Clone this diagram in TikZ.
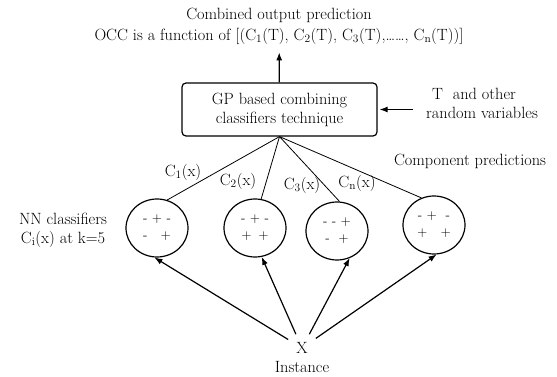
\documentclass[tikz,border=0pt]{standalone}
\usepackage{amsmath}
\usepackage{tikz}
\usetikzlibrary{arrows.meta,shapes,positioning}

\begin{document}
\begin{tikzpicture}[
    % GLOBAL CFG
    x=1pt, y=-1pt,
    font=\fontsize{16.3}{19}\selectfont,
    >={Latex[length=8pt,width=6pt]},
    % Styles
    combiner/.style={% For the GP box
        rectangle,
        rounded corners=4pt,
        draw,
        line width=1.2pt,
        minimum width=195pt,
        minimum height=53pt,
        align=center,
        },
    classifier/.style={% For the NN ellipses
        ellipse,
        draw,
        line width=1.2pt,
        minimum width=62pt,
        minimum height=58pt,
        inner sep=0pt,
        align=center,
        font=\fontsize{13.5}{17}\selectfont,
        },
    plain/.style={% For free text
        align=center,
        inner sep=1pt,
        },
    ArrowA/.style={% Thick arrows
        ->,
        line width=1.2pt,
        },
    FanLine/.style={% Thin component lines
        line width=0.8pt,
        },
    ]

    \useasboundingbox (0,0) rectangle (557,377);

    % Combiner box and its output
    \node [combiner] (gp) at (279.5,109.5) {GP based combining\\classifiers technique};
    \node [plain, font=\fontsize{16.3}{21}\selectfont] (out) at (279,26) {Combined output prediction\\OCC is a function of [(C\textsubscript{1}(T), C\textsubscript{2}(T), C\textsubscript{3}(T),\dots\dots, C\textsubscript{n}(T))]};
    \node [plain, align=left, anchor=west] (rv) at (425,103) {\hspace*{6pt}T\ \ and other\\random variables};
    \node [plain] (comp) at (470,161) {Component predictions};

    % Classifiers named e#
    \node [classifier] (e1) at (157,228) {- + -\\-\ \ \ +};
    \node [classifier] (e2) at (255,228) {- + -\\+ \,+};
    \node [classifier] (e3) at (337,231) {- - +\\-\ \ +};
    \node [classifier] (e4) at (434,225) {- +\ \ -\\+\ \ \ +};
    \node [plain] (nn) at (63,230) {NN classifiers\\C\textsubscript{i}(x) at k=5};

    % Component labels
    \node [plain] (c1) at (183,172) {C\textsubscript{1}(x)};
    \node [plain] (c2) at (238,181) {C\textsubscript{2}(x)};
    \node [plain] (c3) at (302,185) {C\textsubscript{3}(x)};
    \node [plain] (cn) at (357,183) {C\textsubscript{n}(x)};

    % Instance
    \node [plain, inner sep=8pt] (xin) at (302,348) {X};
    \node [plain] (inst) at (302,367) {Instance};

    % Connections
    \draw [ArrowA, shorten >=7pt] (gp) -- (out);
    \draw [ArrowA, shorten <=12pt, shorten >=2pt] (rv.west |- gp.east) -- (gp.east);

    \draw [FanLine] (gp.south) -- (e1.70);
    \draw [FanLine] (gp.south) -- (e2.78);
    \draw [FanLine] (gp.south) -- (e3.85);
    \draw [FanLine] (gp.south) -- (e4.115);

    \draw [ArrowA] (xin) -- (e1.-95);
    \draw [ArrowA] (xin) -- (e2.-77);
    \draw [ArrowA] (xin) -- (e3.-65);
    \draw [ArrowA] (xin) -- (e4.-85);

\end{tikzpicture}
\end{document}
